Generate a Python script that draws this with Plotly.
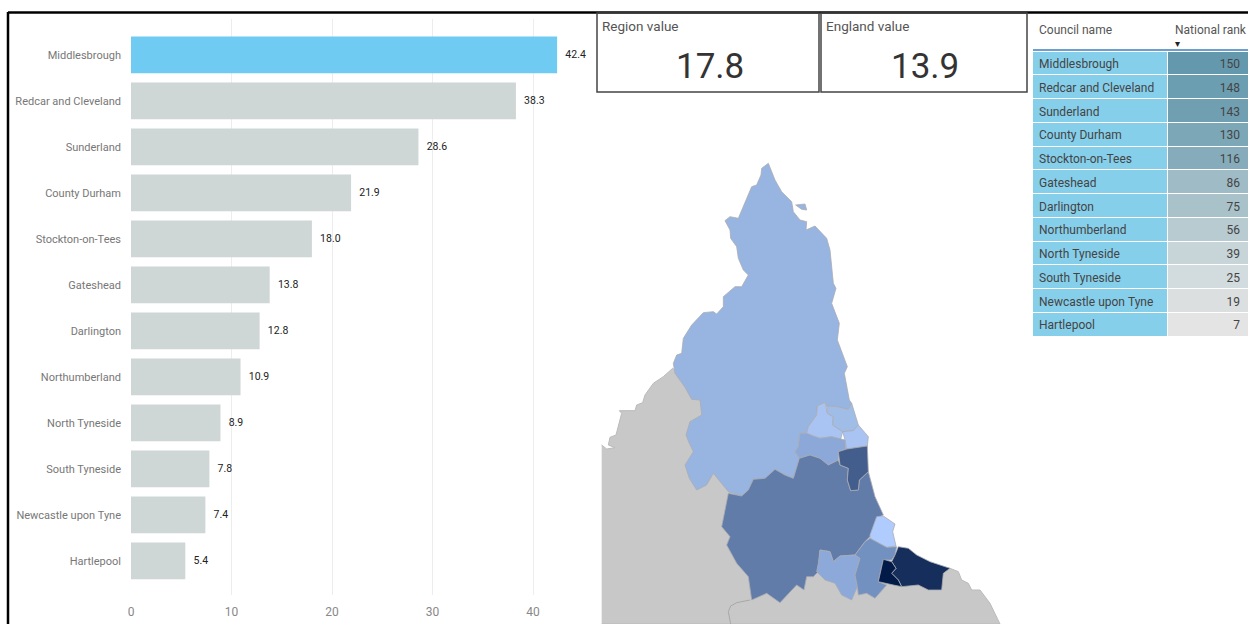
import plotly.graph_objects as go

W, H = 1248, 624
FONT = "Roboto, Liberation Sans, sans-serif"

councils = ["Middlesbrough", "Redcar and Cleveland", "Sunderland", "County Durham", "Stockton-on-Tees",
            "Gateshead", "Darlington", "Northumberland", "North Tyneside", "South Tyneside",
            "Newcastle upon Tyne", "Hartlepool"]
values = [42.4, 38.3, 28.6, 21.9, 18.0, 13.8, 12.8, 10.9, 8.9, 7.8, 7.4, 5.4]
ranks = [150, 148, 143, 130, 116, 86, 75, 56, 39, 25, 19, 7]
rank_colors = ["#6499AD", "#6C9EB1", "#709FB2", "#7CA7B7", "#86ACBB", "#9FBBC5", "#A9C2CA",
               "#B8CBD1", "#C7D4D8", "#D2DBDD", "#DBDFE0", "#E4E4E4"]
bar_colors = ["#6FCBF1"] + ["#CFD6D6"] * 11
xticks = [0, 10, 20, 30, 40]
table_headers = ["Council name", "National rank"]
region_value = "17.8"
england_value = "13.9"

background_x = [5, 20, 45, 25, 30, 48, 65, 58, 105, 110, 128, 135, 160, 190, 218, 400, 600, 1050, 1075, 1085, 1105,
                1115, 1140, 1170, 1200, 5]
background_y = [885, 897, 893, 885, 862, 855, 790, 782, 782, 765, 758, 735, 700, 680, 655, 800, 1200, 1255, 1265,
                1290, 1300, 1320, 1320, 1360, 1422, 1422]
divider_x = [392, 385, 392, 410, 450]
divider_y = [1422, 1385, 1368, 1358, 1350]

map_areas = {
    "Northumberland": ("#98B4E1",
        [505, 525, 545, 575, 580, 600, 620, 618, 645, 680, 690, 695, 700, 708, 695, 718, 712, 742, 733, 748, 755, 745, 710, 680, 675, 652, 650, 625, 620, 600, 595, 585, 598, 580, 555, 525, 495, 460, 445, 425, 385, 340, 320, 290, 268, 255, 280, 268, 258, 270, 305, 300, 275, 255, 225, 220, 230, 245, 250, 275, 310, 340, 350, 370, 370, 405, 425, 445, 430, 415, 410, 392, 390, 375, 390, 415, 425, 445, 455, 470, 483, 485],
        [40, 90, 125, 155, 185, 210, 215, 240, 228, 265, 300, 345, 400, 415, 460, 520, 570, 650, 670, 750, 760, 778, 770, 768, 757, 768, 795, 830, 850, 850, 890, 905, 925, 985, 975, 958, 985, 988, 1020, 1038, 1025, 970, 1005, 1020, 985, 945, 905, 880, 855, 815, 795, 750, 748, 712, 670, 640, 615, 610, 565, 525, 488, 485, 492, 470, 440, 410, 410, 375, 360, 325, 290, 265, 240, 212, 200, 205, 180, 130, 110, 105, 75, 55]),
    "Farne": ("#98B4E1", [587, 615, 620, 605], [165, 162, 180, 178]),
    "Newcastle upon Tyne": ("#A9C4F3",
        [675, 682, 700, 698, 728, 722, 695, 660, 640, 620, 625, 650, 652],
        [757, 790, 800, 825, 845, 868, 860, 865, 858, 850, 830, 795, 768]),
    "North Tyneside": ("#A0BDE8",
        [680, 710, 745, 755, 775, 760, 728, 698, 700, 682],
        [768, 770, 778, 760, 825, 842, 845, 825, 800, 790]),
    "South Tyneside": ("#A9C4F3",
        [728, 760, 775, 805, 802, 740, 735],
        [845, 842, 825, 860, 888, 897, 870]),
    "Gateshead": ("#8CA8D8",
        [600, 620, 640, 660, 695, 722, 735, 738, 715, 715, 685, 660, 630, 598, 585, 595],
        [850, 850, 858, 865, 860, 868, 870, 897, 905, 930, 945, 925, 915, 925, 905, 890]),
    "County Durham": ("#627CAA",
        [598, 630, 660, 685, 715, 720, 745, 742, 752, 775, 778, 805, 825, 850, 830, 810, 795, 765, 720, 700, 690, 660, 655, 640, 620, 612, 590, 540, 500, 455, 445, 410, 380, 390, 365, 385, 425, 445, 460, 495, 525, 555, 580],
        [925, 915, 925, 945, 930, 945, 955, 990, 1022, 1020, 990, 965, 1040, 1095, 1105, 1160, 1175, 1215, 1218, 1235, 1205, 1200, 1265, 1280, 1280, 1320, 1305, 1358, 1330, 1350, 1280, 1240, 1185, 1160, 1130, 1030, 1038, 1020, 988, 985, 958, 975, 985]),
    "Sunderland": ("#435E8C",
        [715, 740, 802, 805, 778, 775, 752, 742, 745, 720],
        [905, 897, 888, 965, 990, 1020, 1022, 990, 955, 945]),
    "Hartlepool": ("#B0CCFF",
        [830, 850, 885, 878, 888, 860, 810, 810],
        [1100, 1098, 1122, 1145, 1188, 1192, 1165, 1155]),
    "Darlington": ("#8CA9DA",
        [660, 690, 700, 720, 765, 780, 765, 772, 755, 725, 705, 675, 650, 655],
        [1200, 1205, 1235, 1218, 1215, 1225, 1275, 1310, 1350, 1335, 1300, 1290, 1265, 1240]),
    "Stockton-on-Tees": ("#7391C0",
        [795, 810, 860, 890, 885, 875, 850, 835, 860, 825, 800, 775, 772, 765, 780, 765],
        [1175, 1165, 1192, 1190, 1215, 1230, 1230, 1295, 1305, 1345, 1330, 1335, 1310, 1275, 1225, 1215]),
    "Redcar and Cleveland": ("#152E5C",
        [895, 925, 950, 990, 1050, 1030, 1025, 985, 955, 905, 895, 875, 888, 875, 885],
        [1190, 1195, 1215, 1235, 1255, 1270, 1320, 1320, 1305, 1310, 1290, 1270, 1255, 1235, 1215]),
    "Middlesbrough": ("#021A48",
        [850, 875, 888, 875, 895, 905, 880, 835],
        [1228, 1235, 1255, 1270, 1290, 1310, 1305, 1295]),
}


def px(x):
    return x / W


def py(y):
    return 1 - y / H


def nowrap(s):
    return s.replace(" ", "\u00a0")


fig = go.Figure()

# Bars
fig.add_trace(go.Bar(
    x=values, y=councils, orientation="h", marker=dict(color=bar_colors, line_width=0), width=0.8,
    text=[f"\u00a0\u00a0{v:.1f}" for v in values], textposition="outside", cliponaxis=False,
    textfont=dict(family=FONT, size=10.5, color="#222222"), hoverinfo="skip", showlegend=False,
))

# Map
fig.add_trace(go.Scatter(x=background_x, y=background_y, mode="lines", fill="toself", fillcolor="#C8C8C8",
                         line=dict(color="#BBBBBB", width=1), xaxis="x2", yaxis="y2", hoverinfo="skip", showlegend=False))
fig.add_trace(go.Scatter(x=divider_x, y=divider_y, mode="lines", line=dict(color="#A8A8A8", width=1),
                         xaxis="x2", yaxis="y2", hoverinfo="skip", showlegend=False))
for name, (color, xs, ys) in map_areas.items():
    fig.add_trace(go.Scatter(x=xs + xs[:1], y=ys + ys[:1], mode="lines", fill="toself", fillcolor=color, name=name,
                             line=dict(color="#A9ACB2", width=0.8), xaxis="x2", yaxis="y2", showlegend=False))

# Table
fig.add_trace(go.Table(
    domain=dict(x=[px(1031), px(1248)], y=[py(338), py(17)]),
    columnwidth=[136, 81],
    header=dict(values=[nowrap(h) for h in table_headers], height=34, align=["left", "left"],
                fill_color="#FFFFFF", line=dict(color="#FFFFFF", width=0),
                font=dict(family=FONT, size=12, color="#555555")),
    cells=dict(values=[[nowrap(c) for c in councils], ranks], height=23.75, align=["left", "right"],
               fill_color=[["#86CFEB"] * 12, rank_colors],
               line=dict(color="#FFFFFF", width=1),
               font=dict(family=FONT, size=12, color="#444444")),
))

shapes = [
    dict(type="line", xref="paper", yref="paper", x0=px(8), x1=1, y0=py(12.5), y1=py(12.5), line=dict(color="#000000", width=2.5)),
    dict(type="line", xref="paper", yref="paper", x0=px(8), x1=px(8), y0=py(12), y1=0, line=dict(color="#000000", width=2.5)),
    dict(type="rect", xref="paper", yref="paper", x0=px(597), x1=px(819), y0=py(92), y1=py(13), line=dict(color="#444444", width=1.5)),
    dict(type="rect", xref="paper", yref="paper", x0=px(821), x1=px(1027), y0=py(92), y1=py(13), line=dict(color="#444444", width=1.5)),
    dict(type="line", xref="paper", yref="paper", x0=px(1033), x1=1, y0=py(50), y1=py(50), line=dict(color="#3A7FC0", width=1.5)),
    dict(type="rect", xref="paper", yref="paper", x0=px(1028), x1=px(1033), y0=py(340), y1=py(48), fillcolor="#FFFFFF", line_width=0, layer="above"),
]

annotations = [
    dict(text="Region value", x=px(600), y=py(26), xanchor="left", font=dict(family=FONT, size=13.5, color="#555555")),
    dict(text="England value", x=px(824), y=py(26), xanchor="left", font=dict(family=FONT, size=13.5, color="#555555")),
    dict(text=region_value, x=px(710), y=py(67), xanchor="center", font=dict(family=FONT, size=35, color="#333333")),
    dict(text=england_value, x=px(925), y=py(67), xanchor="center", font=dict(family=FONT, size=35, color="#333333")),
    dict(text="\u25be", x=px(1177), y=py(44), xanchor="center", font=dict(family="DejaVu Sans", size=10, color="#222222")),
]
for a in annotations:
    a.update(xref="paper", yref="paper", yanchor="middle", showarrow=False)

fig.update_layout(
    width=W, height=H, margin=dict(l=0, r=0, t=0, b=0), paper_bgcolor="#FFFFFF", plot_bgcolor="#FFFFFF",
    bargap=0.2, shapes=shapes, annotations=annotations, template="none",
    font=dict(family=FONT),
    xaxis=dict(domain=[px(131), px(592)], range=[0, 461 / 10.05], tickvals=xticks, showline=False, zeroline=False,
               showgrid=True, gridcolor="#EDEDED", gridwidth=1, anchor="y", automargin=False,
               tickfont=dict(family=FONT, size=12, color="#888888"), ticks="", ticklen=0, ticklabelstandoff=8),
    yaxis=dict(domain=[py(595), py(19)], autorange=False, range=[11.74, -0.78], type="category",
               categoryorder="array", categoryarray=councils, showgrid=False, zeroline=False, showline=False,
               automargin=False, ticks="",
               tickfont=dict(family=FONT, size=11, color="#777777"), ticklabelstandoff=9),
    xaxis2=dict(domain=[px(600), px(1010)], range=[0, 1230], visible=False, anchor="y2", fixedrange=True),
    yaxis2=dict(domain=[py(624), py(150)], range=[1422, 0], visible=False, anchor="x2", fixedrange=True),
)

fig.write_html("out.html", config={"displayModeBar": False},
               post_script="document.body.style.margin='0';document.body.style.overflow='hidden';")
